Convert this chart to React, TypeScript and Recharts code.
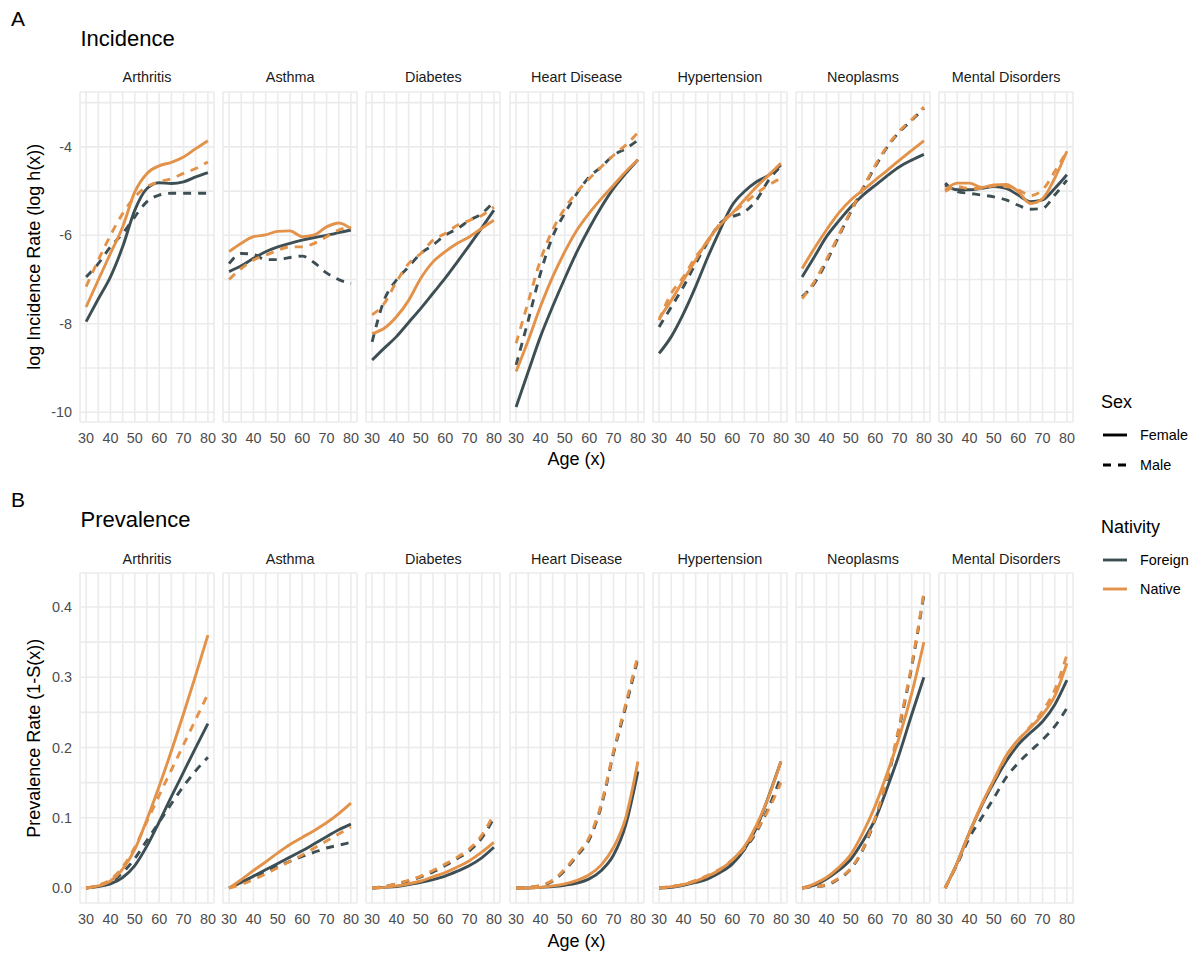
import { LineChart, Line, XAxis, YAxis, CartesianGrid } from 'recharts';

// ages sampled every 5 years
const ages = [30, 35, 40, 45, 50, 55, 60, 65, 70, 75, 80];
const xTicks = [30, 35, 40, 45, 50, 55, 60, 65, 70, 75, 80];
const incidenceTicks = [-10, -9, -8, -7, -6, -5, -4, -3];
const prevalenceTicks = [0, 0.05, 0.1, 0.15, 0.2, 0.25, 0.3, 0.35, 0.4];

const conditions = ['Arthritis', 'Asthma', 'Diabetes', 'Heart Disease', 'Hypertension', 'Neoplasms', 'Mental Disorders'];
const sexLabels = ['Female', 'Male'];
const nativityLabels = ['Foreign', 'Native'];

// log incidence rate, log h(x)
const incArthritis = {
  foreignFemale: [-7.95, -7.44, -6.94, -6.26, -5.43, -4.94, -4.81, -4.83, -4.79, -4.68, -4.58],
  foreignMale: [-6.94, -6.64, -6.26, -5.96, -5.58, -5.24, -5.09, -5.05, -5.05, -5.05, -5.05],
  nativeFemale: [-7.62, -7.01, -6.41, -5.81, -5.02, -4.6, -4.43, -4.35, -4.23, -4.04, -3.86],
  nativeMale: [-7.16, -6.56, -6.0, -5.51, -5.13, -4.9, -4.79, -4.72, -4.6, -4.49, -4.34],
};
const incAsthma = {
  foreignFemale: [-6.82, -6.69, -6.52, -6.37, -6.26, -6.18, -6.11, -6.05, -6.0, -5.94, -5.88],
  foreignMale: [-6.64, -6.41, -6.43, -6.55, -6.55, -6.5, -6.47, -6.62, -6.85, -7.0, -7.09],
  nativeFemale: [-6.37, -6.18, -6.03, -5.99, -5.91, -5.9, -6.03, -5.99, -5.81, -5.72, -5.85],
  nativeMale: [-7.0, -6.75, -6.56, -6.45, -6.34, -6.26, -6.26, -6.18, -6.03, -5.88, -5.81],
};
const incDiabetes = {
  foreignFemale: [-8.82, -8.55, -8.29, -7.97, -7.65, -7.31, -6.97, -6.6, -6.22, -5.83, -5.43],
  foreignMale: [-8.41, -7.46, -7.01, -6.71, -6.41, -6.22, -6.0, -5.85, -5.66, -5.51, -5.24],
  nativeFemale: [-8.22, -8.1, -7.84, -7.47, -6.97, -6.6, -6.37, -6.18, -6.03, -5.84, -5.66],
  nativeMale: [-7.8, -7.54, -7.05, -6.64, -6.41, -6.11, -5.96, -5.77, -5.66, -5.55, -5.36],
};
const incHeart = {
  foreignFemale: [-9.88, -9.08, -8.29, -7.61, -6.97, -6.37, -5.84, -5.36, -4.94, -4.6, -4.29],
  foreignMale: [-8.93, -7.92, -6.86, -6.03, -5.5, -5.05, -4.68, -4.45, -4.19, -4.04, -3.85],
  nativeFemale: [-9.08, -8.37, -7.61, -6.94, -6.37, -5.88, -5.5, -5.17, -4.87, -4.56, -4.29],
  nativeMale: [-8.44, -7.5, -6.56, -5.88, -5.39, -5.02, -4.72, -4.45, -4.19, -3.96, -3.68],
};
const incHypertension = {
  foreignFemale: [-8.67, -8.29, -7.77, -7.16, -6.49, -5.88, -5.32, -5.01, -4.79, -4.64, -4.41],
  foreignMale: [-8.07, -7.62, -7.16, -6.64, -6.15, -5.73, -5.58, -5.47, -5.2, -4.75, -4.44],
  nativeFemale: [-7.88, -7.47, -7.01, -6.56, -6.11, -5.77, -5.5, -5.2, -4.9, -4.64, -4.37],
  nativeMale: [-7.92, -7.31, -6.94, -6.49, -6.15, -5.73, -5.5, -5.28, -5.05, -4.86, -4.71],
};
const incNeoplasms = {
  foreignFemale: [-6.94, -6.49, -6.03, -5.68, -5.36, -5.09, -4.87, -4.65, -4.45, -4.3, -4.17],
  foreignMale: [-7.39, -7.09, -6.6, -6.03, -5.47, -4.94, -4.45, -4.0, -3.66, -3.4, -3.13],
  nativeFemale: [-6.75, -6.3, -5.88, -5.5, -5.2, -4.98, -4.75, -4.53, -4.3, -4.08, -3.86],
  nativeMale: [-7.43, -7.05, -6.55, -6.0, -5.45, -4.92, -4.42, -3.98, -3.64, -3.38, -3.1],
};
const incMental = {
  foreignFemale: [-4.86, -4.97, -4.97, -4.94, -4.9, -4.94, -5.09, -5.24, -5.2, -4.94, -4.63],
  foreignMale: [-4.82, -5.01, -5.05, -5.09, -5.13, -5.2, -5.32, -5.41, -5.39, -5.09, -4.75],
  nativeFemale: [-4.97, -4.82, -4.82, -4.92, -4.86, -4.85, -5.01, -5.28, -5.17, -4.71, -4.1],
  nativeMale: [-5.01, -4.9, -4.94, -4.94, -4.88, -4.9, -4.97, -5.1, -4.97, -4.56, -4.1],
};

// prevalence rate, 1 - S(x)
const prevArthritis = {
  foreignFemale: [0, 0.002, 0.006, 0.015, 0.032, 0.06, 0.094, 0.13, 0.165, 0.2, 0.234],
  foreignMale: [0, 0.003, 0.009, 0.022, 0.042, 0.068, 0.094, 0.12, 0.145, 0.167, 0.186],
  nativeFemale: [0, 0.003, 0.01, 0.027, 0.055, 0.098, 0.145, 0.195, 0.248, 0.303, 0.36],
  nativeMale: [0, 0.004, 0.012, 0.03, 0.058, 0.095, 0.132, 0.168, 0.204, 0.24, 0.276],
};
const prevAsthma = {
  foreignFemale: [0, 0.008, 0.017, 0.026, 0.035, 0.044, 0.053, 0.063, 0.073, 0.083, 0.091],
  foreignMale: [0, 0.008, 0.016, 0.024, 0.031, 0.038, 0.045, 0.051, 0.057, 0.061, 0.065],
  nativeFemale: [0, 0.012, 0.025, 0.037, 0.05, 0.062, 0.072, 0.082, 0.093, 0.106, 0.121],
  nativeMale: [0, 0.005, 0.012, 0.02, 0.029, 0.038, 0.047, 0.057, 0.067, 0.077, 0.087],
};
const prevDiabetes = {
  foreignFemale: [0, 0.001, 0.002, 0.005, 0.008, 0.012, 0.017, 0.024, 0.032, 0.043, 0.058],
  foreignMale: [0, 0.002, 0.006, 0.01, 0.016, 0.023, 0.032, 0.042, 0.053, 0.071, 0.1],
  nativeFemale: [0, 0.001, 0.003, 0.006, 0.01, 0.016, 0.022, 0.03, 0.039, 0.051, 0.065],
  nativeMale: [0, 0.002, 0.006, 0.011, 0.017, 0.025, 0.034, 0.044, 0.056, 0.075, 0.105],
};
const prevHeart = {
  foreignFemale: [0, 0, 0.001, 0.002, 0.004, 0.007, 0.013, 0.025, 0.047, 0.09, 0.166],
  foreignMale: [0, 0.001, 0.003, 0.01, 0.025, 0.046, 0.069, 0.117, 0.192, 0.258, 0.327],
  nativeFemale: [0, 0, 0.001, 0.003, 0.006, 0.011, 0.019, 0.033, 0.058, 0.1, 0.18],
  nativeMale: [0, 0.001, 0.004, 0.011, 0.027, 0.048, 0.072, 0.12, 0.195, 0.262, 0.331],
};
const prevHypertension = {
  foreignFemale: [0, 0.001, 0.004, 0.008, 0.013, 0.022, 0.034, 0.055, 0.086, 0.131, 0.18],
  foreignMale: [0, 0.002, 0.005, 0.01, 0.016, 0.025, 0.038, 0.055, 0.08, 0.115, 0.158],
  nativeFemale: [0, 0.002, 0.005, 0.01, 0.017, 0.026, 0.04, 0.059, 0.09, 0.13, 0.18],
  nativeMale: [0, 0.002, 0.005, 0.011, 0.018, 0.027, 0.04, 0.057, 0.082, 0.112, 0.15],
};
const prevNeoplasms = {
  foreignFemale: [0, 0.004, 0.013, 0.025, 0.041, 0.067, 0.098, 0.143, 0.192, 0.247, 0.3],
  foreignMale: [0, 0.002, 0.004, 0.013, 0.027, 0.055, 0.098, 0.154, 0.23, 0.315, 0.418],
  nativeFemale: [0, 0.006, 0.015, 0.029, 0.048, 0.079, 0.117, 0.164, 0.216, 0.277, 0.35],
  nativeMale: [0, 0.002, 0.005, 0.014, 0.028, 0.056, 0.1, 0.157, 0.233, 0.318, 0.421],
};
const prevMental = {
  foreignFemale: [0, 0.036, 0.079, 0.117, 0.15, 0.18, 0.204, 0.221, 0.237, 0.261, 0.296],
  foreignMale: [0, 0.034, 0.072, 0.1, 0.128, 0.157, 0.178, 0.195, 0.211, 0.23, 0.256],
  nativeFemale: [0, 0.036, 0.079, 0.119, 0.154, 0.188, 0.211, 0.228, 0.247, 0.273, 0.32],
  nativeMale: [0, 0.036, 0.079, 0.118, 0.153, 0.186, 0.21, 0.23, 0.252, 0.282, 0.332],
};

const incidence = [incArthritis, incAsthma, incDiabetes, incHeart, incHypertension, incNeoplasms, incMental];
const prevalence = [prevArthritis, prevAsthma, prevDiabetes, prevHeart, prevHypertension, prevNeoplasms, prevMental];

type Series = typeof incArthritis;

const FOREIGN = '#3D4F54';
const NATIVE = '#E3924A';
const GRID = '#EBEBEB';
const DASH = '8 7';

const PANEL_X0 = 80;
const PANEL_STEP = 143.2;
const PANEL_W = 134;
const PANEL_H = 330;
const AXIS_H = 30;
const Y_AXIS_W = 80;
const ROW_SHIFT = 481.5;

const toRows = (s: Series) =>
  ages.map((age, i) => ({
    age,
    foreignFemale: s.foreignFemale[i],
    foreignMale: s.foreignMale[i],
    nativeFemale: s.nativeFemale[i],
    nativeMale: s.nativeMale[i],
  }));

const fmtAge = (v: number) => (v % 10 === 0 ? String(v) : '');
const fmtInc = (v: number) => (v % 2 === 0 ? String(v) : '');
const fmtPrev = (v: number) => (Math.abs(v * 10 - Math.round(v * 10)) < 1e-6 ? v.toFixed(1) : '');

interface PanelProps {
  series: Series;
  index: number;
  top: number;
  domain: [number, number];
  ticks: number[];
  fmt: (v: number) => string;
}

function Panel({ series, index, top, domain, ticks, fmt }: PanelProps) {
  const showY = index === 0;
  const yW = showY ? Y_AXIS_W : 0;
  const left = PANEL_X0 + index * PANEL_STEP - yW;
  const tickStyle = { fill: '#4D4D4D', fontSize: 14.4 };
  return (
    <div style={{ position: 'absolute', left, top }}>
      <LineChart
        width={PANEL_W + yW}
        height={PANEL_H + AXIS_H}
        data={toRows(series)}
        margin={{ top: 0, right: 0, bottom: 0, left: 0 }}
      >
        <CartesianGrid stroke={GRID} strokeWidth={1.6} />
        <XAxis
          dataKey="age"
          type="number"
          domain={[27.5, 82.5]}
          allowDataOverflow
          ticks={xTicks}
          interval={0}
          tickFormatter={fmtAge}
          axisLine={false}
          tickLine={false}
          tickSize={0}
          tickMargin={11}
          height={AXIS_H}
          tick={tickStyle}
        />
        <YAxis
          type="number"
          domain={domain}
          allowDataOverflow
          ticks={ticks}
          interval={0}
          tickFormatter={fmt}
          hide={!showY}
          width={yW}
          axisLine={false}
          tickLine={false}
          tickSize={0}
          tickMargin={8}
          tick={tickStyle}
        />
        <Line type="monotone" dataKey="foreignFemale" stroke={FOREIGN} strokeWidth={2.9} dot={false} isAnimationActive={false} />
        <Line type="monotone" dataKey="foreignMale" stroke={FOREIGN} strokeWidth={2.9} strokeDasharray={DASH} dot={false} isAnimationActive={false} />
        <Line type="monotone" dataKey="nativeFemale" stroke={NATIVE} strokeWidth={2.9} dot={false} isAnimationActive={false} />
        <Line type="monotone" dataKey="nativeMale" stroke={NATIVE} strokeWidth={2.9} strokeDasharray={DASH} dot={false} isAnimationActive={false} />
      </LineChart>
    </div>
  );
}

const rows = [
  {
    tag: 'A', title: 'Incidence', yTitle: 'log Incidence Rate (log h(x))',
    data: incidence, domain: [-10.22, -2.76] as [number, number], ticks: incidenceTicks, fmt: fmtInc,
  },
  {
    tag: 'B', title: 'Prevalence', yTitle: 'Prevalence Rate (1-S(x))',
    data: prevalence, domain: [-0.0213, 0.4484] as [number, number], ticks: prevalenceTicks, fmt: fmtPrev,
  },
];

export default function App() {
  const plotCenter = PANEL_X0 + (6 * PANEL_STEP + PANEL_W) / 2;
  return (
    <div
      style={{
        position: 'absolute', left: 0, top: 0, width: 1202, height: 956,
        background: '#fff', fontFamily: '"Liberation Sans", Arial, Helvetica, sans-serif',
      }}
    >
      {/* let the end tick labels spill past each panel's edge */}
      <style>{'.recharts-surface, .recharts-wrapper { overflow: visible !important; }'}</style>

      <svg width={1202} height={956} style={{ position: 'absolute', left: 0, top: 0 }}>
        {rows.map((r, ri) => {
          const dy = ri * ROW_SHIFT;
          return (
            <g key={r.tag} transform={`translate(0,${dy})`}>
              <text x={11} y={25.7} fontSize={21} fill="#000">{r.tag}</text>
              <text x={80.5} y={45.7} fontSize={22} fill="#000">{r.title}</text>
              {conditions.map((c, i) => (
                <text key={c} x={PANEL_X0 + i * PANEL_STEP + PANEL_W / 2} y={82.3} fontSize={14.4} fill="#1A1A1A" textAnchor="middle">
                  {c}
                </text>
              ))}
              <text transform="translate(40,256.7) rotate(-90)" fontSize={18} fill="#000" textAnchor="middle">
                {r.yTitle}
              </text>
              <text x={plotCenter} y={465} fontSize={18} fill="#000" textAnchor="middle">Age (x)</text>
            </g>
          );
        })}

        {/* legends */}
        <text x={1101} y={408.3} fontSize={18} fill="#000">Sex</text>
        {sexLabels.map((s, i) => (
          <g key={s}>
            <line x1={1103} x2={1127} y1={435 + i * 30} y2={435 + i * 30} stroke="#000" strokeWidth={2.9} strokeDasharray={i === 1 ? DASH : undefined} />
            <text x={1140} y={440.2 + i * 30} fontSize={14.4} fill="#000">{s}</text>
          </g>
        ))}
        <text x={1101} y={532.7} fontSize={18} fill="#000">Nativity</text>
        {nativityLabels.map((s, i) => (
          <g key={s}>
            <line x1={1103} x2={1127} y1={560 + i * 29} y2={560 + i * 29} stroke={i === 0 ? FOREIGN : NATIVE} strokeWidth={2.9} />
            <text x={1140} y={565.2 + i * 29} fontSize={14.4} fill="#000">{s}</text>
          </g>
        ))}
      </svg>

      {rows.map((r, ri) =>
        r.data.map((s, i) => (
          <Panel
            key={`${r.tag}-${i}`}
            series={s}
            index={i}
            top={91.7 + ri * ROW_SHIFT}
            domain={r.domain}
            ticks={r.ticks}
            fmt={r.fmt}
          />
        )),
      )}
    </div>
  );
}
